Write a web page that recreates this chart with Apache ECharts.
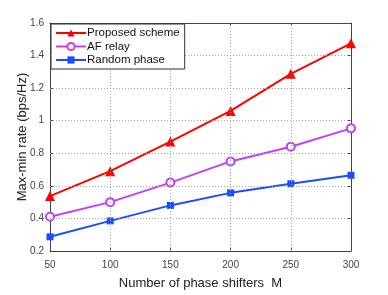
<!DOCTYPE html>
<html><head><meta charset="utf-8">
<script src="https://cdn.jsdelivr.net/npm/echarts@6/dist/echarts.min.js"></script>
<style>html,body{margin:0;padding:0;background:#fff}#c{width:388px;height:295px}</style>
</head><body><div id="c"></div>
<script>
const categories = [50, 100, 150, 200, 250, 300];
const proposed = [0.537, 0.69, 0.872, 1.06, 1.288, 1.475];
const afRelay = [0.41, 0.50, 0.62, 0.75, 0.84, 0.953];
const randomPhase = [0.287, 0.385, 0.48, 0.557, 0.613, 0.665];
const seriesNames = ['Proposed scheme', 'AF relay', 'Random phase'];
const xGridTicks = [100, 150, 200, 250];
const yGridTicks = [0.4, 0.6, 0.8, 1.0, 1.2, 1.4];

const chart = echarts.init(document.getElementById('c'));
const pair = arr => categories.map((x, i) => [x, arr[i]]);
const axisLab = {color: '#444', fontSize: 10, fontFamily: 'Liberation Sans, Arial'};
const gridMarks = {
  silent: true, symbol: 'none', animation: false,
  label: {show: false},
  lineStyle: {color: '#a8a8a8', type: [1, 2], width: 1},
  emphasis: {disabled: true},
  data: xGridTicks.map(v => ({xAxis: v})).concat(yGridTicks.map(v => ({yAxis: v})))
};
chart.setOption({
  animation: false,
  grid: {left: 50, right: 37, top: 23, bottom: 38},
  legend: {
    orient: 'vertical', left: 51, top: 24, itemWidth: 30, itemHeight: 9, itemGap: 1.5,
    padding: [3, 5, 3, 4], borderColor: '#333', borderWidth: 1, backgroundColor: '#fff', z: 10,
    textStyle: {fontSize: 11.5, color: '#111', fontFamily: 'Liberation Sans, Arial', padding: [0,0,0,-4]},
    data: seriesNames
  },
  xAxis: [{
    type: 'value', min: 50, max: 300, interval: 50,
    name: 'Number of phase shifters  M', nameLocation: 'middle', nameGap: 26, nameMoveOverlap: false,
    nameTextStyle: {fontSize: 13, color: '#222', fontFamily: 'Liberation Sans, Arial'},
    axisLine: {show: true, lineStyle: {color: '#444'}}, axisTick: {show: true, inside: true, length: 3, lineStyle: {color: '#444'}},
    axisLabel: Object.assign({margin: 9}, axisLab), splitLine: {show: false}
  }, {
    type: 'value', min: 50, max: 300, interval: 50, position: 'top',
    axisLine: {show: true, lineStyle: {color: '#444'}}, axisTick: {show: true, inside: true, length: 3, lineStyle: {color: '#444'}},
    axisLabel: {show: false}, splitLine: {show: false}
  }],
  yAxis: [{
    type: 'value', min: 0.2, max: 1.6, interval: 0.2,
    name: 'Max-min rate (bps/Hz)', nameLocation: 'middle', nameGap: 21, nameMoveOverlap: false,
    nameTextStyle: {fontSize: 13, color: '#222', fontFamily: 'Liberation Sans, Arial'},
    axisLine: {show: true, lineStyle: {color: '#444'}}, axisTick: {show: true, inside: true, length: 3, lineStyle: {color: '#444'}},
    axisLabel: Object.assign({margin: 6, formatter: v => String(+v.toFixed(1))}, axisLab), splitLine: {show: false}
  }, {
    type: 'value', min: 0.2, max: 1.6, interval: 0.2, position: 'right',
    axisLine: {show: true, lineStyle: {color: '#444'}}, axisTick: {show: true, inside: true, length: 3, lineStyle: {color: '#444'}},
    axisLabel: {show: false}, splitLine: {show: false}
  }],
  series: [
    {name: seriesNames[0], type: 'line', data: pair(proposed), symbol: 'triangle', symbolSize: 10, z: 3,
     lineStyle: {color: '#ff0000', width: 2}, itemStyle: {color: '#ff0000'}, markLine: gridMarks},
    {name: seriesNames[1], type: 'line', data: pair(afRelay), symbol: 'emptyCircle', symbolSize: 8, z: 3,
     lineStyle: {color: '#bf40ff', width: 2}, itemStyle: {color: '#bf40ff', borderWidth: 2}},
    {name: seriesNames[2], type: 'line', data: pair(randomPhase), symbol: 'rect', symbolSize: 7, z: 3,
     lineStyle: {color: '#1a4dff', width: 2}, itemStyle: {color: '#1a4dff'}}
  ]
});
</script></body></html>
